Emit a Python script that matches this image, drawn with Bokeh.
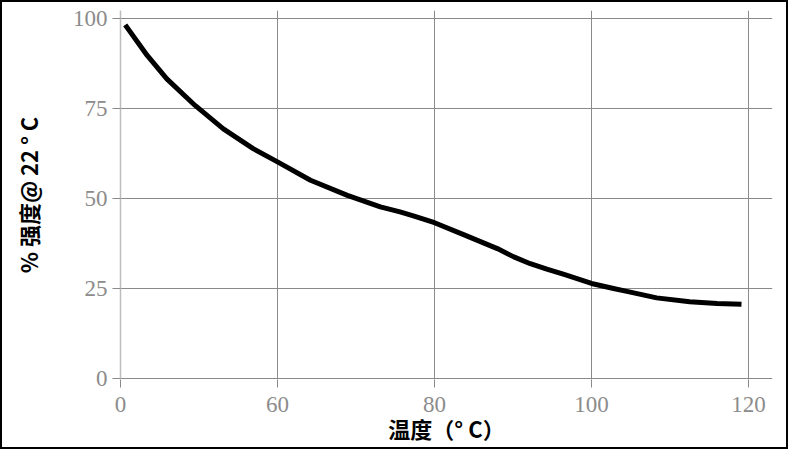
from bokeh.plotting import figure
from bokeh.models import Range1d, FixedTicker
from bokeh.embed import file_html
from bokeh.resources import INLINE

# data
temperature = [40.6, 43.4, 45.9, 49.5, 53.1, 56.9, 60.0, 64.2, 68.9, 73.1, 75.6, 77.3,
               80.0, 83.7, 88.0, 90.1, 92.2, 94.3, 96.5, 100.0, 102.8, 104.5, 108.3,
               112.5, 116.0, 119.1]
strength = [98.3, 89.8, 83.3, 75.9, 69.4, 63.9, 60.2, 55.1, 50.9, 47.7, 46.3, 45.2,
            43.3, 40.0, 36.1, 33.8, 31.9, 30.4, 28.9, 26.4, 25.0, 24.2, 22.4,
            21.3, 20.8, 20.6]
x_ticks = [40, 60, 80, 100, 120]
x_tick_labels = {40: "0", 60: "60", 80: "80", 100: "100", 120: "120"}
y_ticks = [0, 25, 50, 75, 100]

p = figure(width=788, height=449, output_backend="svg", toolbar_location=None,
           x_range=Range1d(40, 123.05), y_range=Range1d(-0.3, 102.3),
           min_border_left=118, min_border_right=18, min_border_top=8, min_border_bottom=72)
p.styles = {"border": "2px solid black"}
p.outline_line_color = None
p.background_fill_color = "white"
p.border_fill_color = "white"

p.line(temperature, strength, line_color="black", line_width=5, line_join="round")

grid_color = "#8a8a8a"
p.xaxis.ticker = FixedTicker(ticks=x_ticks)
p.xaxis.major_label_overrides = x_tick_labels
p.yaxis.ticker = FixedTicker(ticks=y_ticks)
for ax in (p.xaxis, p.yaxis):
    ax.major_tick_out = 8
    ax.major_tick_in = 0
    ax.minor_tick_line_color = None
    ax.major_tick_line_color = grid_color
    ax.major_label_text_font = "Liberation Serif"
    ax.major_label_text_font_size = "23px"
    ax.major_label_text_color = "#8c8c8c"
    ax.major_label_standoff = 5
    ax.axis_label_text_font = "Noto Sans CJK SC"
    ax.axis_label_text_font_size = "22px"
    ax.axis_label_text_font_style = "bold"
    ax.axis_label_text_color = "black"
p.xaxis.major_label_standoff = 9
p.xaxis.axis_line_color = None
p.yaxis.axis_line_color = "#bdbdbd"
p.yaxis.axis_line_width = 1.5
p.xaxis.axis_label = "温度（° C）"
p.yaxis.axis_label = "% 强度@ 22 ° C"
p.xaxis.axis_label_standoff = -3
p.yaxis.axis_label_standoff = 26

p.xgrid.ticker = FixedTicker(ticks=x_ticks)
p.ygrid.ticker = FixedTicker(ticks=y_ticks)
p.grid.grid_line_color = grid_color
p.grid.grid_line_width = 1

open("out.html", "w").write(file_html(p, INLINE))
